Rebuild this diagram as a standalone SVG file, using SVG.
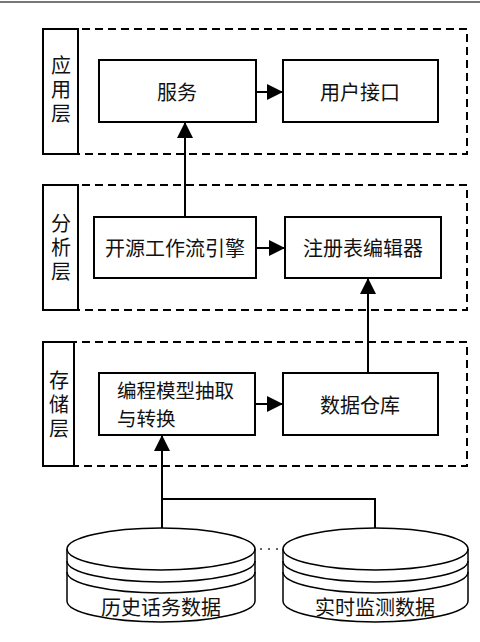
<svg xmlns="http://www.w3.org/2000/svg" width="480" height="642" viewBox="0 0 480 642">
<style>
.box{fill:#fff;stroke:#000;stroke-width:2}
.dash{fill:none;stroke:#000;stroke-width:2;stroke-dasharray:8 5}
.lbl{fill:#fff;stroke:#000;stroke-width:2}
.t{font-family:"Noto Sans CJK SC","Noto Sans",sans-serif;font-size:20px;fill:#111;text-anchor:middle;dominant-baseline:central}
.v{font-family:"Noto Sans CJK SC","Noto Sans",sans-serif;font-size:20px;fill:#111;text-anchor:middle;writing-mode:vertical-rl;letter-spacing:4px}
.ln{fill:none;stroke:#000;stroke-width:2}
.cyl{fill:#fff;stroke:#000;stroke-width:1.5}
.cl{fill:none;stroke:#000;stroke-width:1.5}
</style>
<defs>
<marker id="ah" markerUnits="userSpaceOnUse" markerWidth="16" markerHeight="16" refX="16" refY="8" orient="auto">
<path d="M0,0 L16,8 L0,16 z" fill="#000"/>
</marker>
</defs>
<rect width="480" height="642" fill="#fff"/>
<line x1="0" y1="2" x2="480" y2="2" stroke="#777" stroke-width="2"/>

<g id="layer-app">
<rect class="dash" x="43" y="29" width="424" height="125"/>
<rect class="lbl" x="43" y="29" width="35" height="125"/>
<text class="v" x="61" y="91">应用层</text>
</g>
<g id="layer-analysis">
<rect class="dash" x="43" y="185" width="424" height="125"/>
<rect class="lbl" x="43" y="185" width="35" height="125"/>
<text class="v" x="61" y="249">分析层</text>
</g>
<g id="layer-storage">
<rect class="dash" x="43" y="342" width="424" height="124"/>
<rect class="lbl" x="43" y="342" width="31" height="124"/>
<text class="v" x="59" y="406">存储层</text>
</g>

<g id="node-service">
<rect class="box" x="99" y="60" width="157" height="62"/>
<text class="t" x="177" y="91">服务</text>
</g>
<g id="node-ui">
<rect class="box" x="283" y="60" width="155" height="62"/>
<text class="t" x="360" y="91">用户接口</text>
</g>
<g id="node-engine">
<rect class="box" x="94" y="217" width="162" height="61"/>
<text class="t" x="175" y="247">开源工作流引擎</text>
</g>
<g id="node-registry">
<rect class="box" x="285" y="217" width="156" height="61"/>
<text class="t" x="363" y="247">注册表编辑器</text>
</g>
<g id="node-extract">
<rect class="box" x="99" y="373" width="156" height="62"/>
<text class="t" style="text-anchor:start;font-size:19.5px"><tspan x="117" y="389">编程模型抽取</tspan><tspan x="117" y="417">与转换</tspan></text>
</g>
<g id="node-warehouse">
<rect class="box" x="283" y="373" width="155" height="62"/>
<text class="t" x="360" y="404">数据仓库</text>
</g>

<g id="node-history">
<path class="cyl" d="M67,549 L67,601 A94,21 0 0 0 255,601 L255,549 A94,21 0 0 0 67,549 Z"/>
<path class="cl" d="M67,549 A94,21 0 0 0 255,549"/>
<path class="cl" d="M67,561 A94,21 0 0 0 255,561"/>
<path class="cl" d="M67,572 A94,21 0 0 0 255,572"/>
<text class="t" x="161" y="606">历史话务数据</text>
</g>
<g id="node-realtime">
<path class="cyl" d="M283,549 L283,601 A92.5,21 0 0 0 468,601 L468,549 A92.5,21 0 0 0 283,549 Z"/>
<path class="cl" d="M283,549 A92.5,21 0 0 0 468,549"/>
<path class="cl" d="M283,561 A92.5,21 0 0 0 468,561"/>
<path class="cl" d="M283,572 A92.5,21 0 0 0 468,572"/>
<text class="t" x="375" y="606">实时监测数据</text>
</g>
<g id="ellipsis">
<circle cx="261" cy="549" r="1" fill="#333"/>
<circle cx="269" cy="549" r="1" fill="#333"/>
<circle cx="277" cy="549" r="1" fill="#333"/>
</g>

<g id="connectors">
<line class="ln" x1="256" y1="92" x2="283" y2="92" marker-end="url(#ah)"/>
<line class="ln" x1="185" y1="217" x2="185" y2="122" marker-end="url(#ah)"/>
<line class="ln" x1="256" y1="248" x2="285" y2="248" marker-end="url(#ah)"/>
<line class="ln" x1="368" y1="373" x2="368" y2="278" marker-end="url(#ah)"/>
<line class="ln" x1="255" y1="404" x2="283" y2="404" marker-end="url(#ah)"/>
<line class="ln" x1="162" y1="528" x2="162" y2="435" marker-end="url(#ah)"/>
<polyline class="ln" points="162,499 375,499 375,528"/>
</g>
</svg>
